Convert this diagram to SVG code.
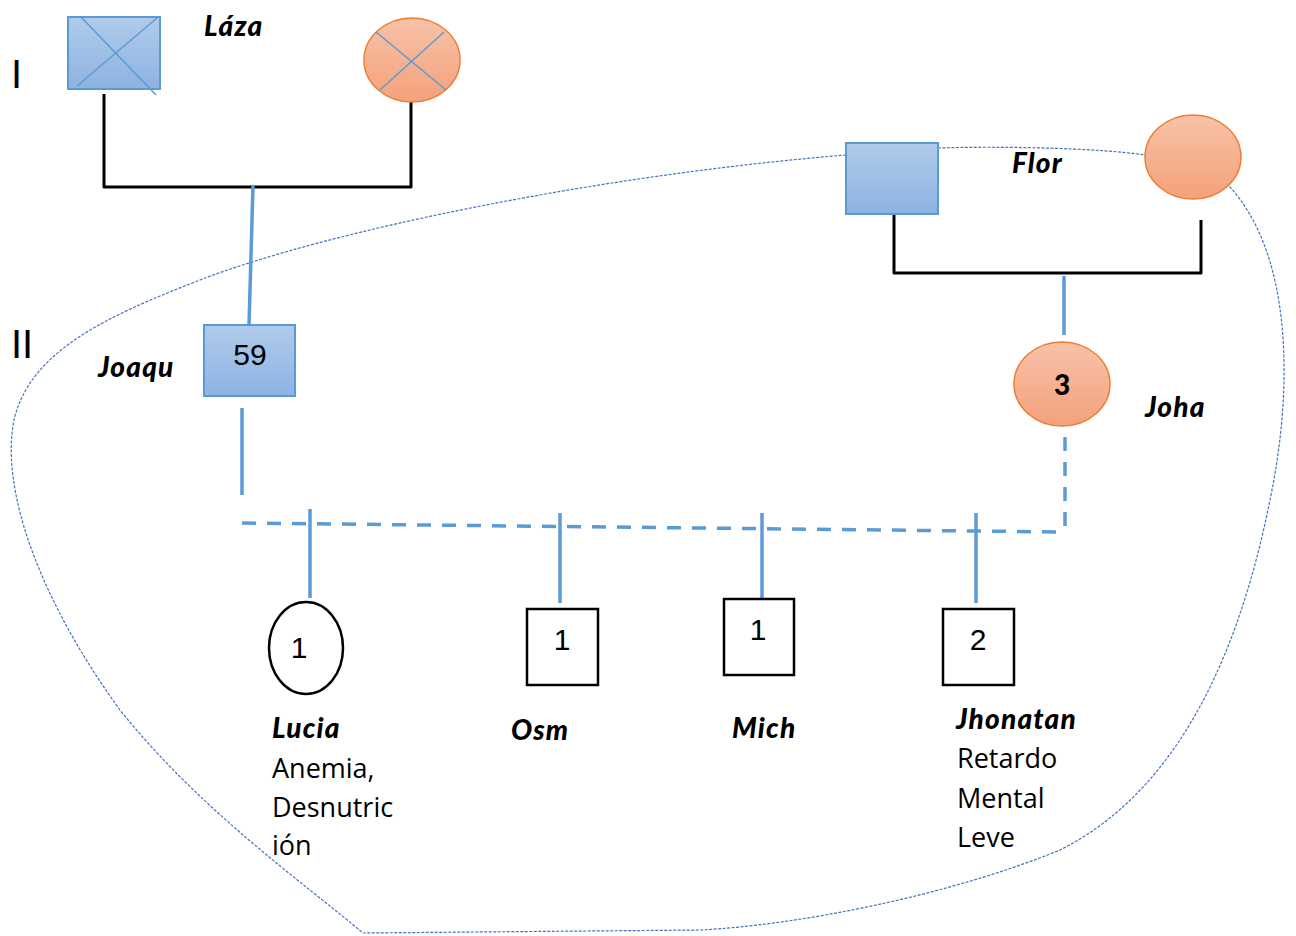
<svg xmlns="http://www.w3.org/2000/svg" width="1296" height="936" viewBox="0 0 1296 936">
<defs>
<linearGradient id="gb" x1="0" y1="0" x2="0" y2="1"><stop offset="0" stop-color="#b0cbea"/><stop offset="1" stop-color="#8db3e2"/></linearGradient>
<linearGradient id="go" x1="0" y1="0" x2="0" y2="1"><stop offset="0" stop-color="#f8c2a8"/><stop offset="1" stop-color="#f4a17b"/></linearGradient>
<style>
.sq{fill:url(#gb);stroke:#5b9bd5;stroke-width:2}
.ci{fill:url(#go);stroke:#ed7d31;stroke-width:1.5}
.x{stroke:#5b9bd5;stroke-width:1.5;fill:none}
.blk{stroke:#000;stroke-width:3;fill:none;stroke-linejoin:round}
.bl{stroke:#5b9bd5;stroke-width:3.5;fill:none}
.dash{stroke:#5b9bd5;stroke-width:3.5;fill:none;stroke-dasharray:14 11}
.kid{fill:#fff;stroke:#000;stroke-width:2.5}
.loop{stroke:#4472c4;stroke-width:1.2;fill:none;stroke-dasharray:3 1.5}
.nm{font-family:Lato,"Open Sans",sans-serif;font-weight:900;font-style:italic;font-size:28px;letter-spacing:1.2px;fill:#000}
.tx{font-family:"Open Sans","Noto Sans",sans-serif;font-size:27px;fill:#000}
.num{font-family:"Liberation Sans",Arial,sans-serif;font-size:30px;fill:#000;text-anchor:middle}
.gen{font-family:"Liberation Sans",Arial,sans-serif;font-size:40px;fill:#000}
</style>
</defs>
<g id="loop">
<path class="loop" d="M846,155 C600,175 330,230 200,280 C110,315 30,350 14,420 C0,490 40,600 120,710 C200,810 300,880 363,933 L700,930 C800,925 950,895 1060,850 C1180,790 1240,650 1270,500 C1295,380 1290,250 1228,185"/>
<path class="loop" d="M938,148 C1000,146 1100,148 1145,155"/>
</g>
<g id="connectors">
<polyline class="blk" points="104,94 104,187 411,187 411,102"/>
<polyline class="blk" points="894,214 894,273 1201,273 1201,220"/>
<line class="bl" x1="253" y1="185" x2="249" y2="325"/>
<line class="bl" x1="1064" y1="276" x2="1064" y2="335"/>
<line class="bl" x1="242" y1="408" x2="242" y2="495"/>
<line class="dash" x1="1065" y1="437" x2="1065" y2="532"/>
<line class="dash" x1="242" y1="523" x2="1065" y2="532"/>
<line class="bl" x1="310" y1="509" x2="310" y2="598"/>
<line class="bl" x1="560" y1="513" x2="560" y2="603"/>
<line class="bl" x1="762" y1="513" x2="762" y2="603"/>
<line class="bl" x1="976" y1="513" x2="976" y2="603"/>
</g>
<g id="gen-labels">
<text class="gen" x="11" y="88">I</text>
<text class="gen" x="11" y="358">II</text>
</g>
<g id="lazaro">
<rect class="sq" x="68" y="17" width="92" height="72"/>
<line class="x" x1="81" y1="17" x2="156" y2="95"/>
<line class="x" x1="77" y1="86" x2="157" y2="18"/>
<text class="nm" x="204" y="36">Láza</text>
</g>
<g id="wife-I">
<ellipse class="ci" cx="412" cy="60" rx="48" ry="42"/>
<line class="x" x1="376" y1="32" x2="446" y2="90"/>
<line class="x" x1="380" y1="90" x2="444" y2="32"/>
</g>
<g id="flor-husband">
<rect class="sq" x="846" y="143" width="92" height="71"/>
<text class="nm" x="1012" y="173">Flor</text>
</g>
<g id="flor">
<ellipse class="ci" cx="1193" cy="157" rx="48" ry="42"/>
</g>
<g id="joaqu">
<rect class="sq" x="204" y="325" width="91" height="71"/>
<text class="num" x="250" y="365">59</text>
<text class="nm" x="98" y="377">Joaqu</text>
</g>
<g id="joha">
<ellipse class="ci" cx="1062" cy="384" rx="48" ry="42"/>
<text x="1062" y="395" style="font-family:Lato,'Open Sans',sans-serif;font-weight:900;font-size:28px;text-anchor:middle">3</text>
<text class="nm" x="1145" y="417">Joha</text>
</g>
<g id="lucia">
<ellipse class="kid" cx="306" cy="648" rx="37" ry="46"/>
<text class="num" x="299" y="658">1</text>
<text class="nm" x="272" y="738">Lucia</text>
<text class="tx" x="272" y="778">Anemia,</text>
<text class="tx" x="272" y="817">Desnutric</text>
<text class="tx" x="272" y="855">ión</text>
</g>
<g id="osm">
<rect class="kid" x="527" y="609" width="71" height="76"/>
<text class="num" x="562" y="650">1</text>
<text class="nm" x="511" y="740">Osm</text>
</g>
<g id="mich">
<rect class="kid" x="724" y="599" width="70" height="76"/>
<text class="num" x="758" y="640">1</text>
<text class="nm" x="732" y="738">Mich</text>
</g>
<g id="jhonatan">
<rect class="kid" x="943" y="609" width="71" height="76"/>
<text class="num" x="978" y="650">2</text>
<text class="nm" x="956" y="729">Jhonatan</text>
<text class="tx" x="957" y="768">Retardo</text>
<text class="tx" x="957" y="808">Mental</text>
<text class="tx" x="957" y="847">Leve</text>
</g>
</svg>
